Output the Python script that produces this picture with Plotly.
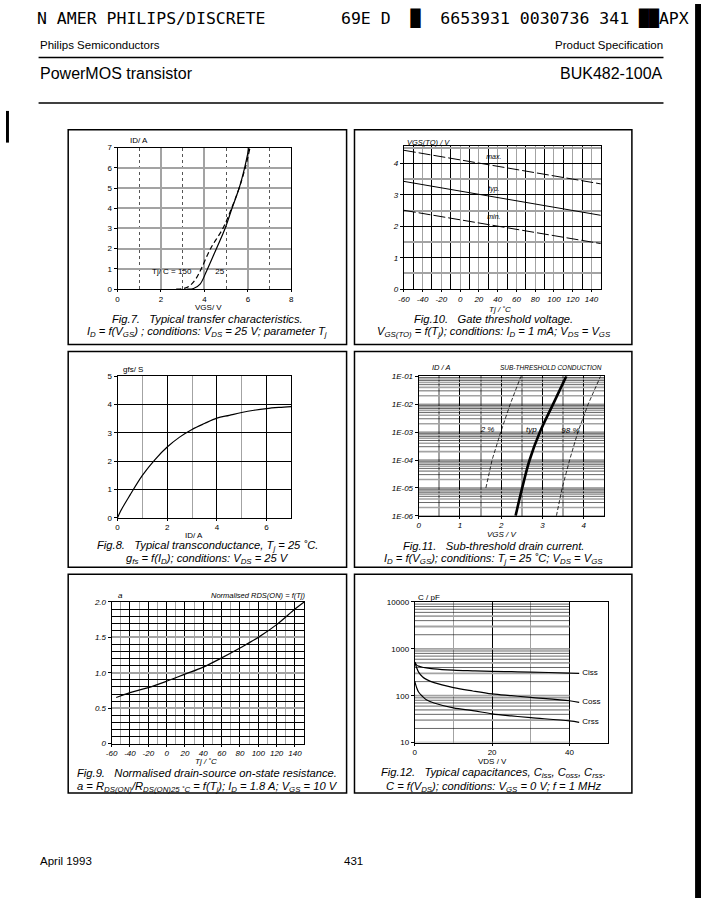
import numpy as np
import plotly.graph_objects as go

# Fig.7 transfer characteristics
f7_vgs_25 = [3.2, 3.5, 3.8, 4.1, 4.55, 4.95, 5.27, 5.6, 5.85, 6.05]
f7_id_25 = [0, 0.03, 0.25, 0.9, 2, 3, 4, 5, 6, 7]
f7_vgs_150 = [2.7, 3.0, 3.3, 3.6, 3.85, 4.28, 4.85, 5.25, 5.6, 5.88, 6.1]
f7_id_150 = [0, 0.02, 0.15, 0.5, 1.0, 2, 3, 4, 5, 6, 7]

# Fig.10 gate threshold voltage
f10_tj = [-60, 25, 150]
f10_max = [4.42, 3.98, 3.35]
f10_typ = [3.43, 3.0, 2.35]
f10_min = [2.51, 2.08, 1.45]

# Fig.8 transconductance
f8_id = [0, 0.1, 0.5, 1, 1.5, 2, 2.5, 3, 3.5, 4, 4.5, 5, 5.5, 6, 6.5, 7]
f8_gfs = [0, 0.2, 0.8, 1.5, 2.05, 2.5, 2.85, 3.12, 3.33, 3.52, 3.62, 3.72, 3.8, 3.86, 3.9, 3.93]

# Fig.11 sub-threshold drain current
f11_id = [1e-6, 1e-5, 1e-4, 1e-3, 1e-2, 1e-1]
f11_typ = [2.35, 2.51, 2.69, 2.94, 3.26, 3.58]
f11_id_2 = [1e-5, 1e-4, 1e-3, 1e-2, 1e-1]
f11_2pc = [1.63, 1.78, 1.99, 2.22, 2.48]
f11_98pc = [3.34, 3.48, 3.66, 3.86, 4.11, 4.41]

# Fig.9 normalised RDS(ON)
f9_tj = [-55, -40, -20, 0, 20, 40, 60, 80, 100, 120, 140, 150]
f9_a = [0.65, 0.72, 0.79, 0.88, 0.98, 1.08, 1.21, 1.35, 1.5, 1.68, 1.9, 2.0]

# Fig.12 capacitances
f12_vds = [0, 0.5, 1, 2, 3, 5, 10, 15, 20, 25, 30, 40, 42.5]
f12_ciss = [520, 450, 427, 405, 394, 375, 352, 340, 330, 325, 319, 304, 300]
f12_coss = [520, 394, 319, 254, 223, 190, 149, 126, 109, 100, 92, 78, 72]
f12_crss = [205, 149, 120, 97, 82, 70, 55, 48, 41, 37, 34, 29, 27]

tj_ticks = list(range(-60, 141, 20))
tj_ticktext = [str(t) for t in tj_ticks]
f11_ticks = [1e-6, 1e-5, 1e-4, 1e-3, 1e-2, 1e-1]
f11_ticktext = ["1E-06", "1E-05", "1E-04", "1E-03", "1E-02", "1E-01"]

W, H = 704, 903
SANS = "Liberation Sans, Arial, sans-serif"
MONO = "DejaVu Sans Mono, monospace"


def fx(p):
    return p / W


def fy(p):
    return 1 - p / H


def ax(lo, hi, vertical=False, **kw):
    d = dict(showline=True, linecolor="black", linewidth=1, mirror=True,
             ticks="outside", ticklen=2 if not vertical else 3, tickcolor="black",
             zeroline=False, showgrid=True, gridcolor="#999999", gridwidth=1.3,
             tickfont=dict(family=SANS, size=8, color="black"))
    d["domain"] = [fy(hi), fy(lo)] if vertical else [fx(lo), fx(hi)]
    d.update(kw)
    return d


ital = dict(family=SANS, size=8, color="black", style="italic")
GRAY = "#a3a3a3"

fig = go.Figure()
blk = dict(color="black", width=1.2)

# Fig.7
fig.add_trace(go.Scatter(x=f7_vgs_25, y=f7_id_25, mode="lines", line=blk,
                         line_shape="spline", xaxis="x", yaxis="y"))
fig.add_trace(go.Scatter(x=f7_vgs_150, y=f7_id_150, mode="lines",
                         line=dict(color="black", width=1.2, dash="5px,3px"),
                         line_shape="spline", xaxis="x", yaxis="y"))
fig.add_trace(go.Scatter(x=[3.5, 4.4], y=[0.86, 0.86], mode="text",
                         text=["Tj/ C = 150 ", " 25"], textposition=["middle left", "middle right"],
                         textfont=dict(family=SANS, size=8, color="black"), xaxis="x", yaxis="y"))

# Fig.10
for ys, dash in [(f10_max, "12px,3px"), (f10_typ, "solid"), (f10_min, "12px,3px")]:
    fig.add_trace(go.Scatter(x=f10_tj, y=ys, mode="lines",
                             line=dict(color="black", width=1, dash=dash),
                             xaxis="x2", yaxis="y2"))
fig.add_trace(go.Scatter(x=[36, 36, 36], y=[4.19, 3.17, 2.28], mode="text",
                         text=["max.", "typ.", "min."],
                         textfont=dict(family=SANS, size=7, style="italic", color="black"),
                         xaxis="x2", yaxis="y2"))

# Fig.8
fig.add_trace(go.Scatter(x=f8_id, y=f8_gfs, mode="lines", line=blk,
                         line_shape="spline", xaxis="x3", yaxis="y3"))

# Fig.11 grid lines (log)
gx_b, gy_b, gx_g, gy_g = [], [], [], []
for k in range(-6, -1):
    for m in range(1, 10):
        v = m * 10.0 ** k
        if m in (2, 4, 6, 8):
            gx_g += [0, 4.5, None]
            gy_g += [v, v, None]
        else:
            gx_b += [0, 4.5, None]
            gy_b += [v, v, None]
fig.add_trace(go.Scatter(x=gx_g, y=gy_g, mode="lines", line=dict(color=GRAY, width=1.6),
                         hoverinfo="skip", xaxis="x4", yaxis="y4"))
fig.add_trace(go.Scatter(x=gx_b, y=gy_b, mode="lines", line=dict(color="black", width=0.6),
                         hoverinfo="skip", xaxis="x4", yaxis="y4"))
fig.add_trace(go.Scatter(x=f11_2pc, y=f11_id_2, mode="lines",
                         line=dict(color="black", width=0.8, dash="4px,2px"), xaxis="x4", yaxis="y4"))
fig.add_trace(go.Scatter(x=f11_typ, y=f11_id, mode="lines",
                         line=dict(color="black", width=2.6), line_shape="spline", xaxis="x4", yaxis="y4"))
fig.add_trace(go.Scatter(x=f11_98pc, y=f11_id, mode="lines",
                         line=dict(color="black", width=0.8, dash="4px,2px"), xaxis="x4", yaxis="y4"))
fig.add_trace(go.Scatter(x=[1.67, 2.73, 3.68], y=[1.2e-3, 1.2e-3, 1.1e-3], mode="text",
                         text=["2 %", "typ", "98 %"],
                         textfont=dict(family=SANS, size=8, style="italic", color="black"),
                         xaxis="x4", yaxis="y4"))

# Fig.9
fig.add_trace(go.Scatter(x=f9_tj, y=f9_a, mode="lines", line=blk,
                         line_shape="spline", xaxis="x5", yaxis="y5"))

# Fig.12 grid lines (only up to 40 V)
hx_b, hy_b, hx_g, hy_g = [], [], [], []
for k in range(1, 4):
    for m in range(1, 10):
        v = m * 10.0 ** k
        if m in (1, 3, 5):
            hx_g += [0, 40, None]
            hy_g += [v, v, None]
        else:
            hx_b += [0, 40, None]
            hy_b += [v, v, None]
fig.add_trace(go.Scatter(x=hx_g, y=hy_g, mode="lines", line=dict(color=GRAY, width=1.8),
                         hoverinfo="skip", xaxis="x6", yaxis="y6"))
fig.add_trace(go.Scatter(x=hx_b, y=hy_b, mode="lines", line=dict(color="black", width=0.6),
                         hoverinfo="skip", xaxis="x6", yaxis="y6"))
for ys in (f12_ciss, f12_coss, f12_crss):
    fig.add_trace(go.Scatter(x=f12_vds, y=ys, mode="lines", line=blk,
                             line_shape="spline", xaxis="x6", yaxis="y6"))
fig.add_trace(go.Scatter(x=[43.3, 43.3, 43.3], y=[300, 72, 27], mode="text",
                         text=["Ciss", "Coss", "Crss"], textposition="middle right",
                         textfont=dict(family=SANS, size=8, color="black"), xaxis="x6", yaxis="y6"))

fig.update_layout(
    width=W, height=H, margin=dict(l=0, r=0, t=0, b=0),
    paper_bgcolor="white", plot_bgcolor="white", showlegend=False,
    font=dict(family=SANS, color="black"),
    xaxis=ax(113, 289, range=[0, 8], dtick=2, anchor="y", gridcolor=GRAY, gridwidth=1.5,
             minor=dict(dtick=1, showgrid=True, gridcolor="#555555", gridwidth=0.5, griddash="dot")),
    yaxis=ax(145, 288, True, range=[0, 7], dtick=1, anchor="x", gridcolor=GRAY, gridwidth=1.5),
    xaxis2=ax(403, 602.5, range=[-60, 150], tickvals=tj_ticks, ticktext=tj_ticktext, anchor="y2",
              tickfont=ital, gridcolor=GRAY, gridwidth=1.4,
              minor=dict(dtick=10, showgrid=True, gridcolor="black", gridwidth=0.6)),
    yaxis2=ax(143, 288, True, range=[0, 4.57], dtick=1, anchor="x2", tickfont=ital,
              gridcolor="black", gridwidth=0.7,
              minor=dict(dtick=0.5, showgrid=True, gridcolor=GRAY, gridwidth=1.5)),
    xaxis3=ax(113, 289, range=[0, 7], dtick=2, anchor="y3", gridcolor="black", gridwidth=0.6,
              minor=dict(dtick=1, showgrid=True, gridcolor=GRAY, gridwidth=1.3)),
    yaxis3=ax(376, 519, True, range=[0, 5], dtick=1, anchor="x3", gridcolor="black", gridwidth=0.7),
    xaxis4=ax(418, 606, range=[0, 4.5], dtick=1, anchor="y4", tickfont=ital,
              gridcolor="black", gridwidth=0.6,
              minor=dict(dtick=0.5, showgrid=True, gridcolor=GRAY, gridwidth=1.5)),
    yaxis4=ax(376, 517, True, type="log", range=[-6, -1], tickvals=f11_ticks,
              ticktext=f11_ticktext, anchor="x4", tickfont=ital, showgrid=False),
    xaxis5=ax(107, 302, range=[-60, 150], tickvals=tj_ticks, ticktext=tj_ticktext, anchor="y5",
              tickfont=ital, gridcolor="black", gridwidth=0.6,
              minor=dict(dtick=10, showgrid=True, gridcolor=GRAY, gridwidth=1.3)),
    yaxis5=ax(604, 747, True, range=[0, 2.0], tickvals=[0, 0.5, 1.0, 1.5, 2.0],
              ticktext=["0", "0.5", "1.0", "1.5", "2.0"], anchor="x5", tickfont=ital,
              gridcolor=GRAY, gridwidth=1.5,
              minor=dict(dtick=0.1, showgrid=True, gridcolor="black", gridwidth=0.5)),
    xaxis6=ax(414, 610, range=[0, 50], dtick=20, anchor="y6", gridcolor="black", gridwidth=0.6,
              minor=dict(dtick=10, showgrid=True, gridcolor=GRAY, gridwidth=1.3)),
    yaxis6=ax(604, 746, True, type="log", range=[1, 4], tickvals=[10, 100, 1000, 10000],
              ticktext=["10", "100", "1000", "10000"], anchor="x6", showgrid=False),
)

shapes = []
# panel boxes
for x0, x1 in [(63, 345), (353, 634)]:
    for y0, y1 in [(127, 344), (351, 569), (576, 797)]:
        shapes.append(dict(type="rect", xref="paper", yref="paper", x0=fx(x0), x1=fx(x1),
                           y0=fy(y1), y1=fy(y0), line=dict(color="black", width=1.5)))
# header rules
for yy in (54, 100):
    shapes.append(dict(type="line", xref="paper", yref="paper", x0=fx(33), x1=fx(666),
                       y0=fy(yy), y1=fy(yy), line=dict(color="black", width=1.5)))
# scanner edge marks
shapes.append(dict(type="rect", xref="paper", yref="paper", x0=fx(698), x1=1, y0=0, y1=1,
                   fillcolor="black", line=dict(width=0)))
shapes.append(dict(type="rect", xref="paper", yref="paper", x0=0, x1=fx(3), y0=fy(140), y1=fy(108),
                   fillcolor="black", line=dict(width=0)))
fig.update_layout(shapes=shapes)

ann = []


def note(text, x, y, size=11, xanchor="center", italic=False, family=SANS):
    ann.append(dict(text=text, x=fx(x), y=fy(y), xref="paper", yref="paper", showarrow=False,
                    xanchor=xanchor, yanchor="middle", borderpad=0,
                    font=dict(family=family, size=size, color="black",
                              style="italic" if italic else "normal")))


# page header / footer
note("N AMER PHILIPS/DISCRETE", 30, 15, 16.5, "left", family=MONO)
note("69E D  \u2588  6653931 0030736 341 \u2588\u2588APX", 693, 15, 16.5, "right", family=MONO)
note("Philips Semiconductors", 33, 41, 11.5, "left")
note("Product Specification", 667, 41, 11.5, "right")
note("PowerMOS transistor", 33, 70, 16, "left")
note("BUK482-100A", 667, 70, 16, "right")
note("April 1993", 33, 866, 11.5, "left")
note("431", 352, 866, 11.5)

# axis labels
note("ID/ A", 125, 138, 8, "left")
note("VGS/ V", 205, 307, 8)
note("VGS(TO) / V", 405, 140, 7.5, "left", True)
note("Tj / \u02daC", 500, 309, 8, italic=True)
note("gfs/ S", 117, 369, 8, "left")
note("ID/ A", 190, 537, 8)
note("ID / A", 430, 367, 7.5, "left", True)
note("SUB-THRESHOLD CONDUCTION", 605, 367, 6.5, "right", True)
note("VGS / V", 502, 536, 8, italic=True)
note("a", 112, 597, 8, "left", True)
note("Normalised RDS(ON) = f(Tj)", 304, 597, 7.5, "right", True)
note("Tj / \u02daC", 203, 765, 8, italic=True)
note("C / pF", 416, 599, 8, "left")
note("VDS / V", 493, 765, 8)

# captions
sp = "\u00a0\u00a0\u00a0"
caps = [
    (204, 318, "Fig.7." + sp + "Typical transfer characteristics.",
     "I<sub>D</sub> = f(V<sub>GS</sub>) ; conditions: V<sub>DS</sub> = 25 V; parameter T<sub>j</sub>"),
    (494, 318, "Fig.10." + sp + "Gate threshold voltage.",
     "V<sub>GS(TO)</sub> = f(T<sub>j</sub>); conditions: I<sub>D</sub> = 1 mA; V<sub>DS</sub> = V<sub>GS</sub>"),
    (204, 547, "Fig.8." + sp + "Typical transconductance, T<sub>j</sub> = 25 \u02daC.",
     "g<sub>fs</sub> = f(I<sub>D</sub>); conditions: V<sub>DS</sub> = 25 V"),
    (494, 547, "Fig.11." + sp + "Sub-threshold drain current.",
     "I<sub>D</sub> = f(V<sub>GS</sub>); conditions: T<sub>j</sub> = 25 \u02daC; V<sub>DS</sub> = V<sub>GS</sub>"),
    (204, 777, "Fig.9." + sp + "Normalised drain-source on-state resistance.",
     "a = R<sub>DS(ON)</sub>/R<sub>DS(ON)25 \u02daC</sub> = f(T<sub>j</sub>); I<sub>D</sub> = 1.8 A; V<sub>GS</sub> = 10 V"),
    (494, 777, "Fig.12." + sp + "Typical capacitances, C<sub>iss</sub>, C<sub>oss</sub>, C<sub>rss</sub>.",
     "C = f(V<sub>DS</sub>); conditions: V<sub>GS</sub> = 0 V; f = 1 MHz"),
]
for cx, cy, l1, l2 in caps:
    note(l1, cx, cy, 11.2, italic=True)
    note(l2, cx, cy + 13.5, 11.2, italic=True)

fig.update_layout(annotations=ann)

fig.write_html("out.html", config={"displayModeBar": False},
               post_script="document.body.style.margin='0px';document.body.style.overflow='hidden';")
